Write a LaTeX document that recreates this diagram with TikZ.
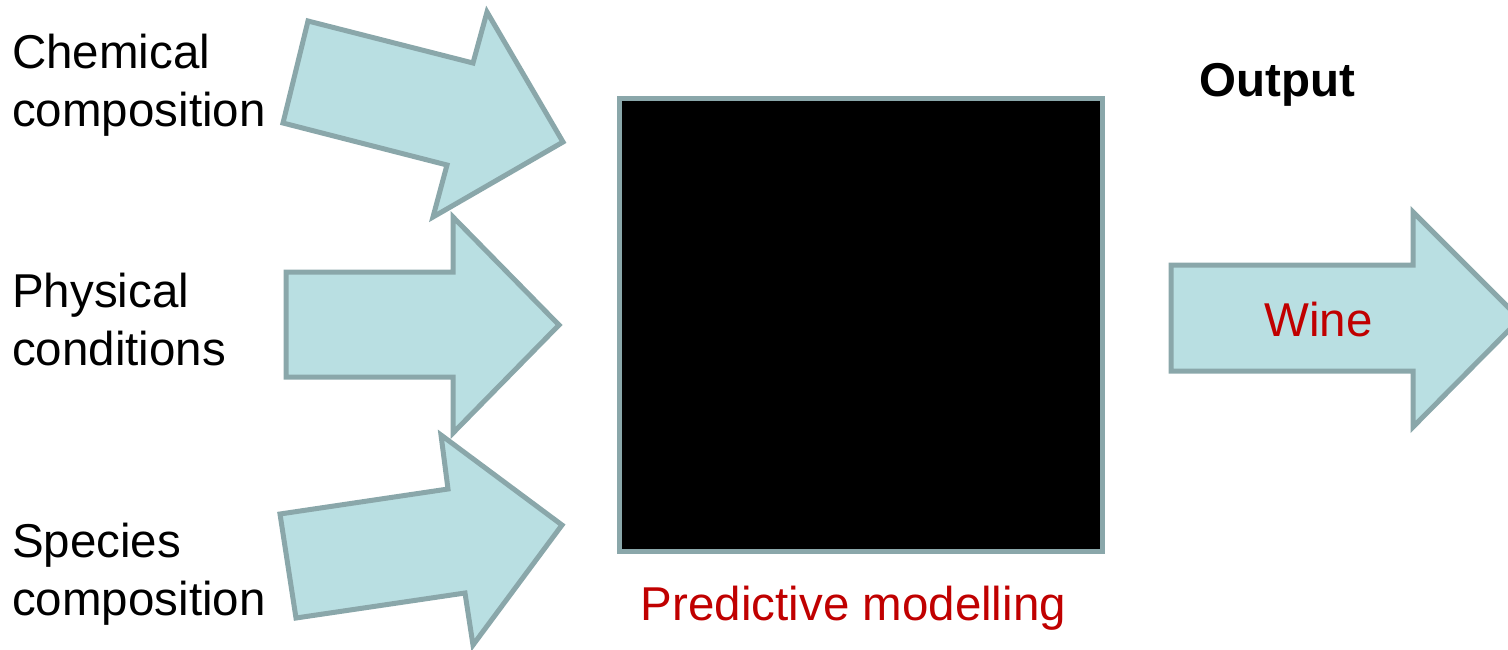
\documentclass[tikz,border=0pt]{standalone}
\usepackage{fontspec}
\setmainfont{Liberation Sans}
\definecolor{arrowfill}{HTML}{B9DFE2}
\definecolor{arrowline}{HTML}{8AA7AA}
\definecolor{darkred}{HTML}{C00000}
\tikzset{
  blockarrow/.style={fill=arrowfill, draw=arrowline, line width=5pt, line join=miter},
  inlabel/.style={anchor=north west, inner sep=0pt, align=left, font=\fontsize{47.5}{57.5}\selectfont, text=black},
  redlabel/.style={anchor=base, inner sep=0pt, font=\fontsize{47.5}{56}\selectfont, text=darkred},
}
\begin{document}
\begin{tikzpicture}[x=1pt,y=-1pt]
\useasboundingbox (0,0) rectangle (1508,649);
\clip (0,0) rectangle (1508,649);
% input labels
\node[inlabel] (chem) at (12,34) {Chemical\\composition};
\node[inlabel] (phys) at (12,273) {Physical\\conditions};
\node[inlabel] (spec) at (12,523) {Species\\composition};
% input arrows
\draw[blockarrow] (308,21) -- (473,63) -- (487,12) -- (563,142) -- (433,217) -- (447,165) -- (283,123) -- cycle;
\draw[blockarrow] (286,272) -- (453,272) -- (453,217) -- (559,325) -- (453,433) -- (453,377) -- (286,377) -- cycle;
\draw[blockarrow] (280,514) -- (448,489) -- (441,435) -- (562,525) -- (473,645) -- (465,593) -- (296,618) -- cycle;
% black box
\draw[fill=black, draw=arrowline, line width=5pt] (619.5,98) rectangle (1102.5,551);
\coordinate (box) at (861,324.5);
\node[redlabel] (pred) at (853.5,620) {Predictive modelling};
% output
\node[anchor=base, inner sep=0pt, font=\fontsize{47.5}{56}\selectfont\bfseries] (out) at (1277.5,96) {Output};
\draw[blockarrow] (1171,265) -- (1413,265) -- (1413,212) -- (1520,319) -- (1413,427) -- (1413,371) -- (1171,371) -- cycle;
\node[redlabel] (wine) at (1318.5,336) {Wine};
\end{tikzpicture}
\end{document}
